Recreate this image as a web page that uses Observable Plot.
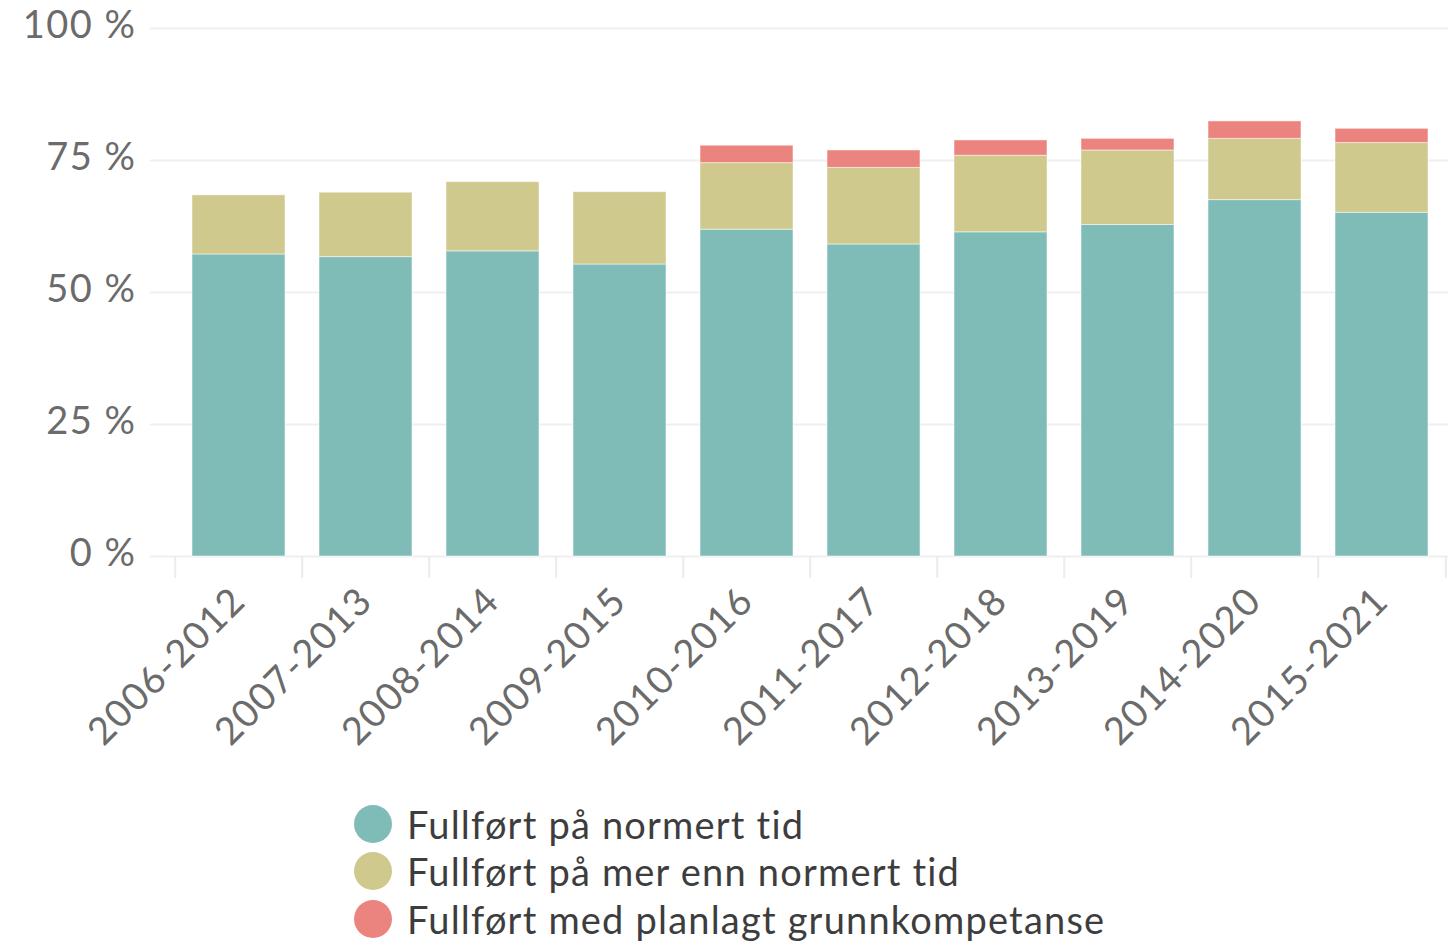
<!DOCTYPE html>
<html>
<head>
<meta charset="utf-8">
<script src="https://cdn.jsdelivr.net/npm/d3@7"></script>
<script src="https://cdn.jsdelivr.net/npm/@observablehq/plot@0.6"></script>
<style>
  html, body { margin: 0; padding: 0; background: #fff; }
  #chart svg { display: block; }
  .legend { margin-left: 354px; margin-top: 10px; font-family: Lato, sans-serif; font-size: 38px; letter-spacing: 1.2px; color: #3d3d3d; }
  .legend .row { display: flex; align-items: center; height: 47.5px; }
  .legend .dot { width: 38px; height: 38px; border-radius: 50%; margin-right: 15px; flex: none; }
</style>
</head>
<body>
<div id="chart"></div>
<div class="legend" id="legend"></div>
<script>
const categories = ["2006-2012", "2007-2013", "2008-2014", "2009-2015", "2010-2016", "2011-2017", "2012-2018", "2013-2019", "2014-2020", "2015-2021"];
const normert = [57.2, 56.7, 57.8, 55.3, 61.9, 59.1, 61.4, 62.8, 67.5, 65.1];
const merEnnNormert = [11.2, 12.2, 13.1, 13.7, 12.6, 14.5, 14.5, 14.1, 11.6, 13.2];
const grunnkompetanse = [0, 0, 0, 0, 3.3, 3.3, 2.9, 2.2, 3.3, 2.7];
const seriesNames = ["Fullført på normert tid", "Fullført på mer enn normert tid", "Fullført med planlagt grunnkompetanse"];
const seriesColors = ["#7fbcb8", "#cfc98d", "#eb847f"];
const yTicks = [0, 25, 50, 75, 100];

const seriesValues = [normert, merEnnNormert, grunnkompetanse];
const rows = [];
seriesValues.forEach((vals, si) => {
  vals.forEach((v, i) => {
    if (v > 0) rows.push({cat: categories[i], series: seriesNames[si], value: v});
  });
});

const step = (1447.7 - 172.3) / categories.length;

const chart = Plot.plot({
  width: 1455,
  height: 790,
  marginLeft: 150,
  marginRight: 7,
  marginTop: 28,
  marginBottom: 234,
  style: {fontFamily: "Lato, sans-serif", background: "#fff", letterSpacing: "1.5px"},
  x: {domain: categories, range: [172.3, 1447.7], paddingInner: 0.27, paddingOuter: 0.135, label: null},
  y: {domain: [0, 100], label: null},
  color: {domain: seriesNames, range: seriesColors},
  marks: [
    Plot.ruleY(yTicks, {stroke: "#efefef", strokeWidth: 2}),
    Plot.barY(rows, Plot.stackY({x: "cat", y: "value", fill: "series", order: seriesNames, stroke: "#fff", strokeOpacity: 0.5, strokeWidth: 1})),
    Plot.axisY({ticks: yTicks, tickSize: 0, tickPadding: 14, tickFormat: d => d + " %", fontSize: 38, fill: "#6b6b6b", label: null, dy: -3}),
    Plot.axisX({tickSize: 22, dx: -step / 2, tickFormat: () => "", stroke: "#ececec", strokeWidth: 2, label: null}),
    Plot.axisX({ticks: [categories[categories.length - 1]], tickSize: 22, dx: step / 2, tickFormat: () => "", stroke: "#ececec", strokeWidth: 2, label: null}),
    Plot.axisX({tickSize: 0, tickPadding: 38, tickRotate: -45, fontSize: 38, fill: "#6b6b6b", label: null})
  ]
});
document.getElementById("chart").appendChild(chart);

const legend = document.getElementById("legend");
seriesNames.forEach((name, i) => {
  const row = document.createElement("div");
  row.className = "row";
  const dot = document.createElement("span");
  dot.className = "dot";
  dot.style.background = seriesColors[i];
  const label = document.createElement("span");
  label.textContent = name;
  row.appendChild(dot);
  row.appendChild(label);
  legend.appendChild(row);
});
</script>
</body>
</html>
